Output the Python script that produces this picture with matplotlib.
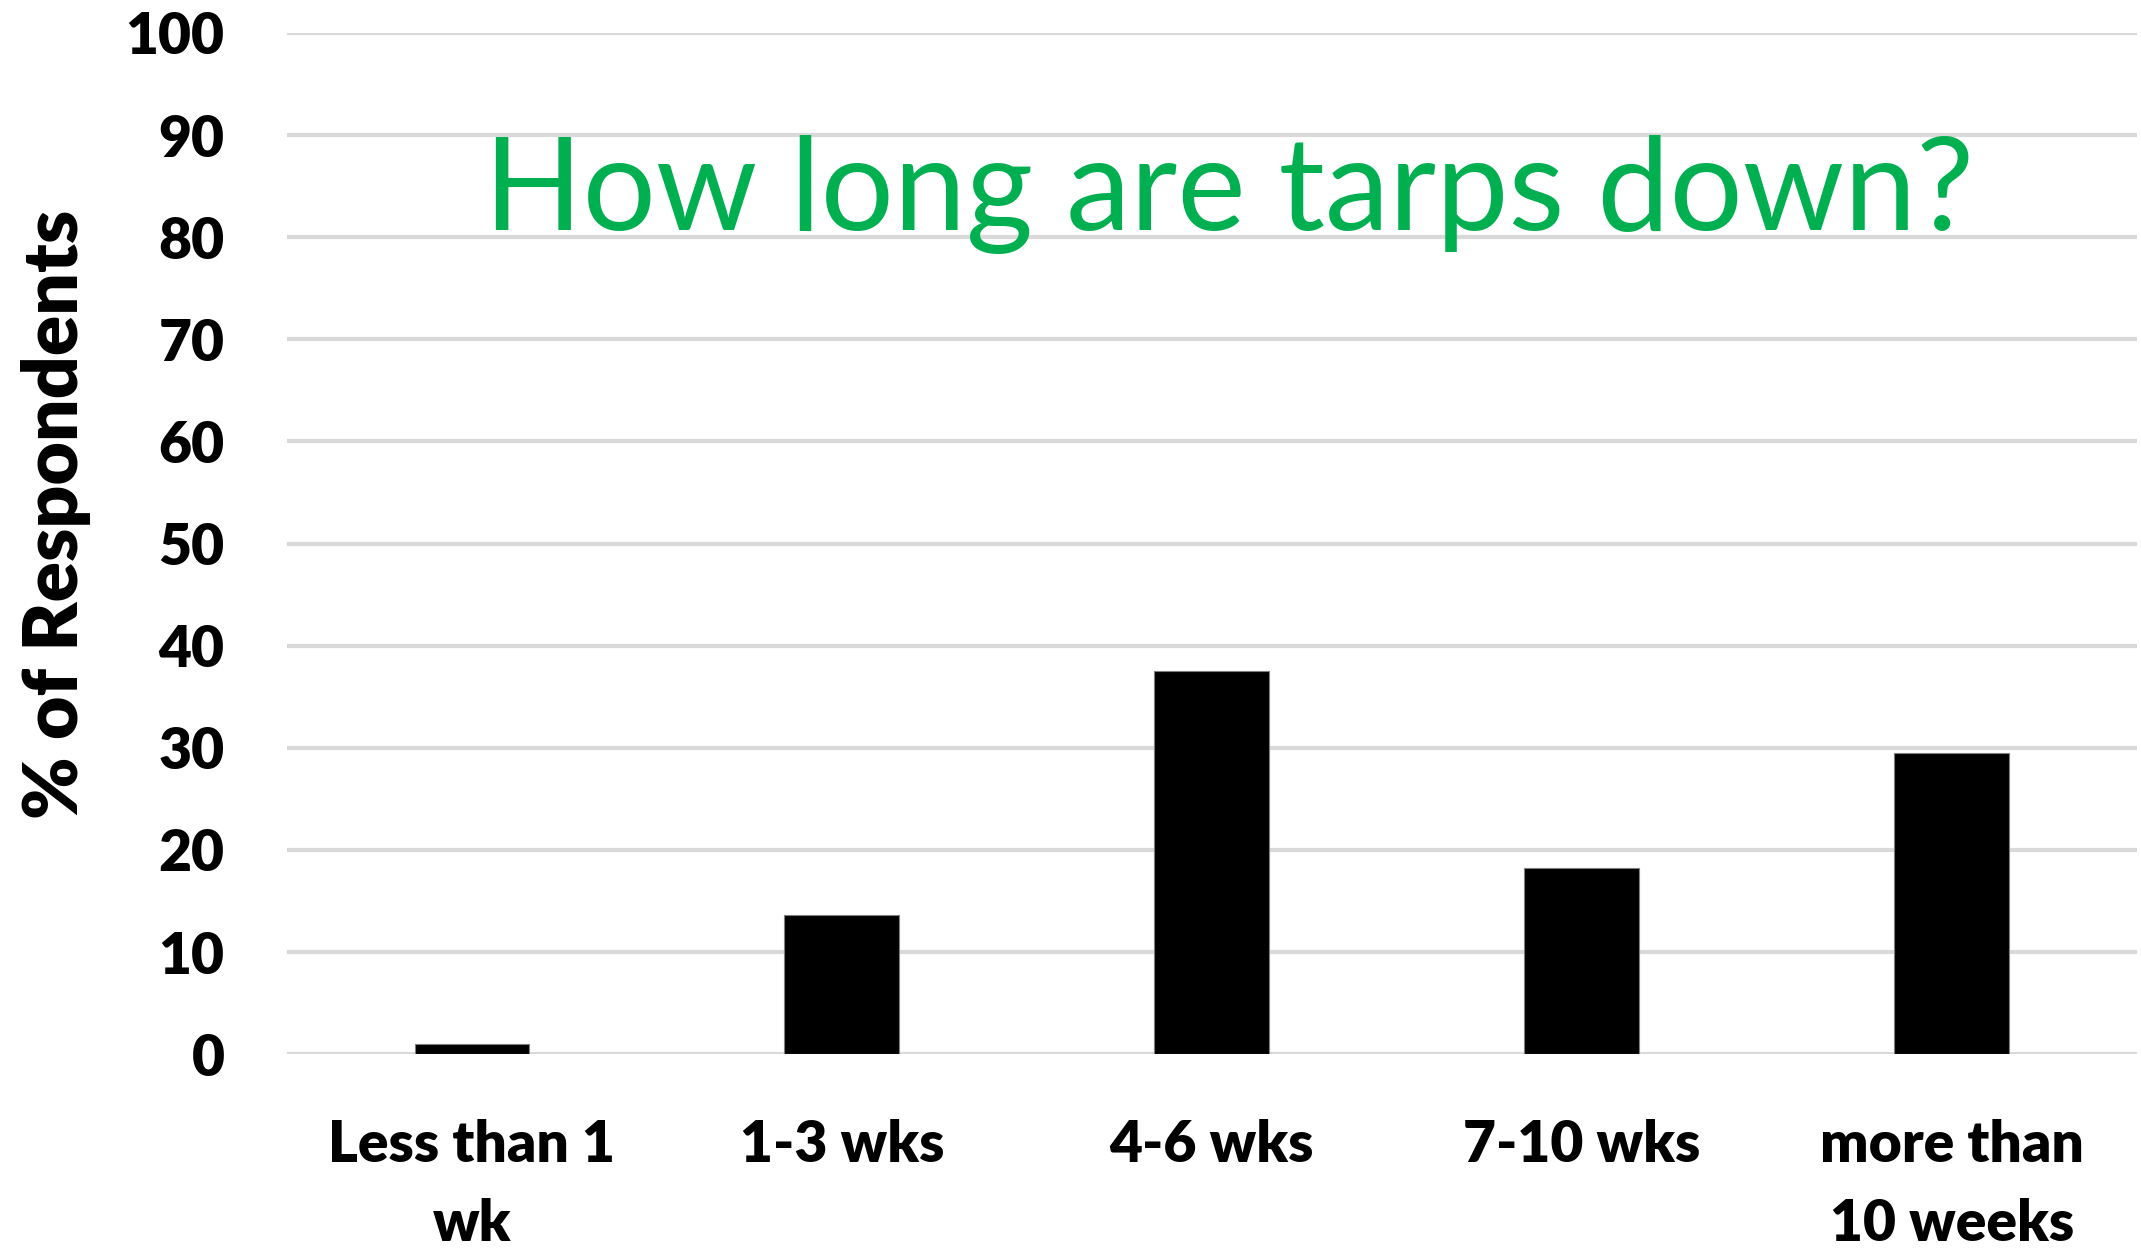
import matplotlib
matplotlib.use("Agg")
import matplotlib.pyplot as plt

categories = ["Less than 1\nwk", "1-3 wks", "4-6 wks", "7-10 wks", "more than\n10 weeks"]
values = [1.0, 13.6, 37.5, 18.2, 29.5]
yticks = [0, 10, 20, 30, 40, 50, 60, 70, 80, 90, 100]
title = "How long are tarps down?"
ylabel = "% of Respondents"

plt.rcParams['font.family'] = ['Lato', 'DejaVu Sans']

fig = plt.figure(figsize=(21.41, 12.49), dpi=100)
ax = fig.add_axes([0.134, 0.156, 0.864, 0.8176])

x = list(range(len(categories)))
ax.bar(x, values, width=0.31, color="black", edgecolor="#7f7f7f", linewidth=0.8, zorder=3)

ax.set_xlim(-0.5, len(categories) - 0.5)
ax.set_ylim(0, 100)
ax.set_yticks(yticks)
ax.set_yticklabels([str(t) for t in yticks], fontsize=41, fontweight="heavy")
ax.set_xticks(x)
ax.set_xticklabels(categories, fontsize=41, fontweight="heavy", linespacing=1.62)
ax.tick_params(axis="y", length=0, pad=45)
ax.tick_params(axis="x", length=0, pad=47)
ax.yaxis.grid(True, color="#d9d9d9", linewidth=3, zorder=0)
ax.set_axisbelow(True)
for s in ax.spines.values():
    s.set_visible(False)

ax.set_ylabel(ylabel, fontsize=54, fontweight="heavy")
ax.yaxis.set_label_coords(-0.106, 0.529)

fig.text(0.574, 0.844, title, color="#00B050", fontsize=93, ha="center", va="center")

fig.savefig("out.png", dpi=100)
